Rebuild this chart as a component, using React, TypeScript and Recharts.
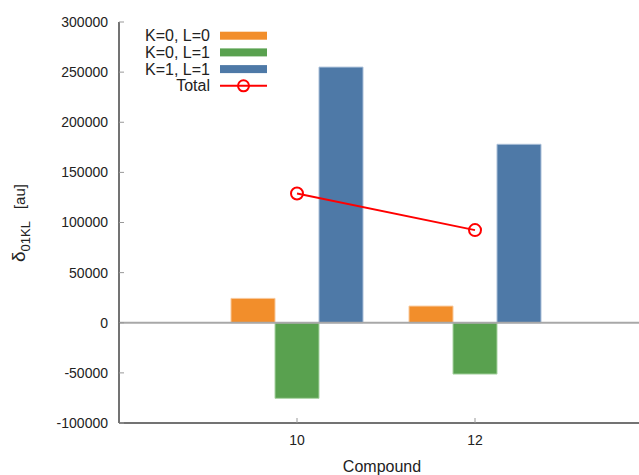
import React from "react";
import { ComposedChart, Bar, Line, XAxis, YAxis, ReferenceLine, Label } from "recharts";

const compounds = [10, 12];
const k0l0 = [24300, 16600];
const k0l1 = [-75400, -51200];
const k1l1 = [255000, 178000];
const total = [129000, 92400];
const yTicks = [-100000, -50000, 0, 50000, 100000, 150000, 200000, 250000, 300000];
const xTicks = [10, 12];

const C_ORANGE = "#F28E2B";
const C_GREEN = "#59A14F";
const C_BLUE = "#4E79A7";
const C_RED = "#FF0000";

const data = compounds.map((c, i) => ({
  compound: c,
  k0l0: k0l0[i],
  k0l1: k0l1[i],
  k1l1: k1l1[i],
  total: total[i],
}));

const FONT = "'Liberation Sans', Arial, sans-serif";

const YLabel = () => (
  <text
    transform="translate(25, 223) rotate(-90)"
    textAnchor="middle"
    fontFamily={FONT}
    fill="#222"
  >
    <tspan fontSize={19}>δ</tspan>
    <tspan fontSize={13} dy={5}>01KL</tspan>
    <tspan fontSize={15} dy={-5} dx={12}>[au]</tspan>
  </text>
);

const legendItems = [
  { label: "K=0, L=0", color: C_ORANGE, type: "bar" },
  { label: "K=0, L=1", color: C_GREEN, type: "bar" },
  { label: "K=1, L=1", color: C_BLUE, type: "bar" },
  { label: "Total", color: C_RED, type: "line" },
];

export default function App() {
  return (
    <div
      style={{
        position: "fixed",
        left: 0,
        top: 0,
        width: 639,
        height: 475,
        overflow: "hidden",
        background: "#fff",
      }}
    >
      <ComposedChart
        width={653}
        height={475}
        data={data}
        margin={{ top: 22, right: 0, bottom: 22, left: 59 }}
        barGap={0}
      >
        <XAxis
          dataKey="compound"
          type="number"
          domain={[8, 14]}
          ticks={xTicks}
          height={30}
          tickSize={-5}
          tickMargin={17}
          axisLine={{ stroke: "#444", strokeWidth: 1.5 }}
          tickLine={{ stroke: "#999", strokeWidth: 1 }}
          tick={{ fill: "#222", fontSize: 14, fontFamily: FONT }}
          allowDataOverflow
        >
          <Label
            content={() => (
              <text x={382} y={472} textAnchor="middle" fontSize={16} fontFamily={FONT} fill="#222">
                Compound
              </text>
            )}
          />
        </XAxis>
        <YAxis
          type="number"
          domain={[-100000, 300000]}
          ticks={yTicks}
          width={60}
          tickSize={-5}
          tickMargin={16}
          axisLine={{ stroke: "#444", strokeWidth: 1.5 }}
          tickLine={{ stroke: "#999", strokeWidth: 1 }}
          tick={{ fill: "#222", fontSize: 14, fontFamily: FONT }}
          interval={0}
        >
          <Label content={() => <YLabel />} />
        </YAxis>
        <ReferenceLine y={0} stroke="#a8a8a8" strokeWidth={2} />
        <Bar dataKey="k0l0" fill={C_ORANGE} stroke="#f8c89a" strokeWidth={1} barSize={44} isAnimationActive={false} />
        <Bar dataKey="k0l1" fill={C_GREEN} stroke="#a9d3a3" strokeWidth={1} barSize={44} isAnimationActive={false} />
        <Bar dataKey="k1l1" fill={C_BLUE} stroke="#a9bfd8" strokeWidth={1} barSize={44} isAnimationActive={false} />
        <Line
          dataKey="total"
          stroke={C_RED}
          strokeWidth={2}
          dot={{ r: 6, stroke: C_RED, strokeWidth: 2, fill: "none" }}
          isAnimationActive={false}
        />
      </ComposedChart>
      <svg
        width={300}
        height={110}
        style={{ position: "absolute", left: 0, top: 0 }}
      >
        {legendItems.map((it, i) => {
          const cy = 35.7 + i * 16.7;
          return (
            <g key={it.label}>
              <text
                x={210}
                y={cy + 5.5}
                textAnchor="end"
                fontSize={16}
                fontFamily={FONT}
                fill="#222"
              >
                {it.label}
              </text>
              {it.type === "bar" ? (
                <rect x={220} y={cy - 4} width={47} height={8} fill={it.color} />
              ) : (
                <g>
                  <line x1={220} x2={267} y1={cy} y2={cy} stroke={it.color} strokeWidth={2} />
                  <circle cx={243.5} cy={cy} r={5.5} stroke={it.color} strokeWidth={2} fill="none" />
                </g>
              )}
            </g>
          );
        })}
      </svg>
    </div>
  );
}
